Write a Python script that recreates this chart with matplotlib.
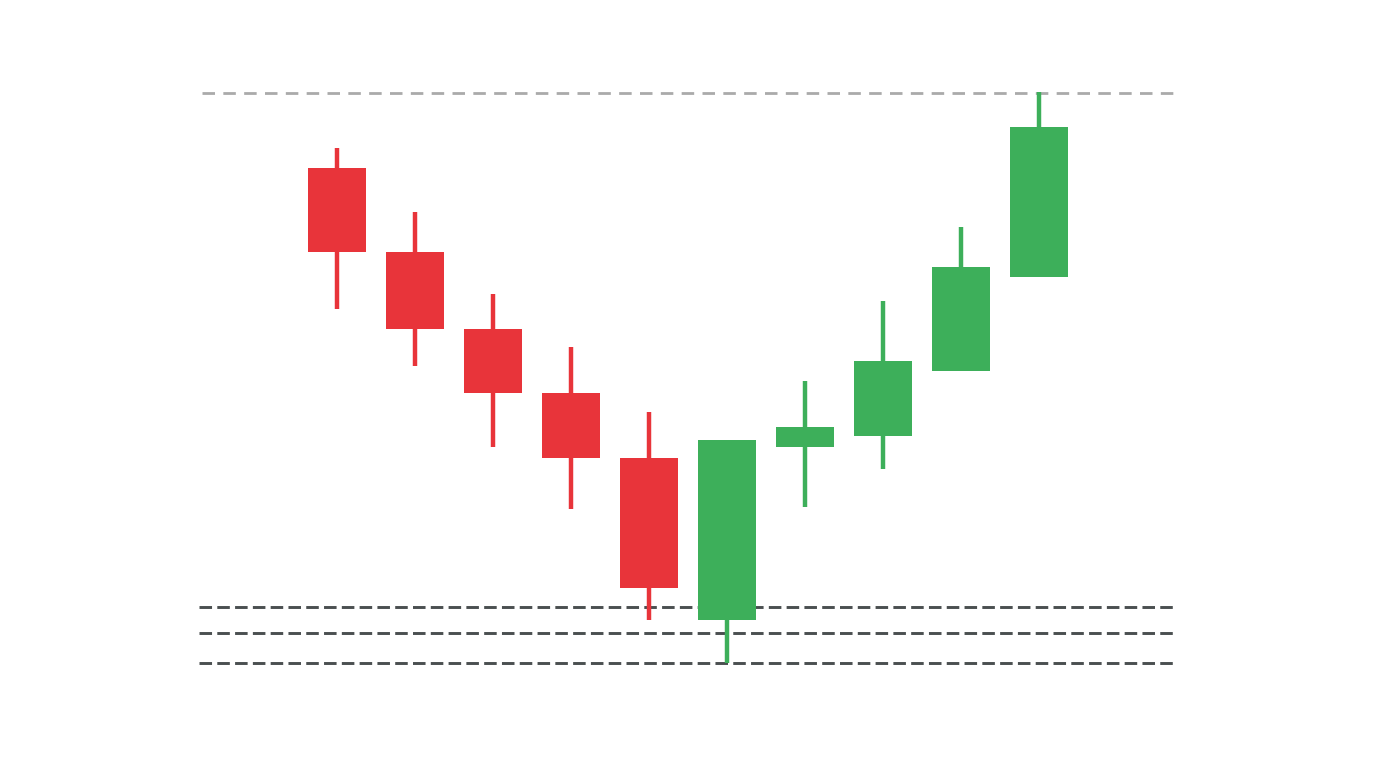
import numpy as np
import matplotlib.pyplot as plt

# candle data (arbitrary price units)
opens = np.array([600, 516, 439, 375, 310, 148, 321, 332, 397, 491])
closes = np.array([516, 439, 375, 310, 180, 328, 341, 407, 501, 641])
highs = np.array([620, 556, 474, 421, 356, 328, 387, 467, 541, 676])
lows = np.array([459, 402, 321, 259, 148, 105, 261, 299, 397, 491])

resistance = 675
supports = [161, 135, 105]

red = '#E8343A'
green = '#3DAF5A'

fig = plt.figure(figsize=(13.76, 7.68), dpi=100)
ax = fig.add_axes([0, 0, 1, 1])

x = np.arange(len(opens))
w = 58 / 78

for i in x:
    c = green if closes[i] >= opens[i] else red
    ax.vlines(i, lows[i], highs[i], color=c, linewidth=3.2, zorder=2)
    lo = min(opens[i], closes[i])
    ax.bar(i, abs(closes[i] - opens[i]), bottom=lo, width=w, color=c, zorder=3)

ax.hlines(resistance, -1.73, 10.74, color='#AAAAAA', linewidth=2,
          linestyles=(0, (4.5, 3)), zorder=1)
for s in supports:
    ax.hlines(s, -1.77, 10.77, color='#4A4F50', linewidth=2.1,
              linestyles=(0, (4.3, 1.8)), zorder=1)

ax.set_xlim(-337 / 78, (1376 - 337) / 78)
ax.set_ylim(0, 768)
ax.axis('off')

fig.savefig('out.png', dpi=100, facecolor='white')
